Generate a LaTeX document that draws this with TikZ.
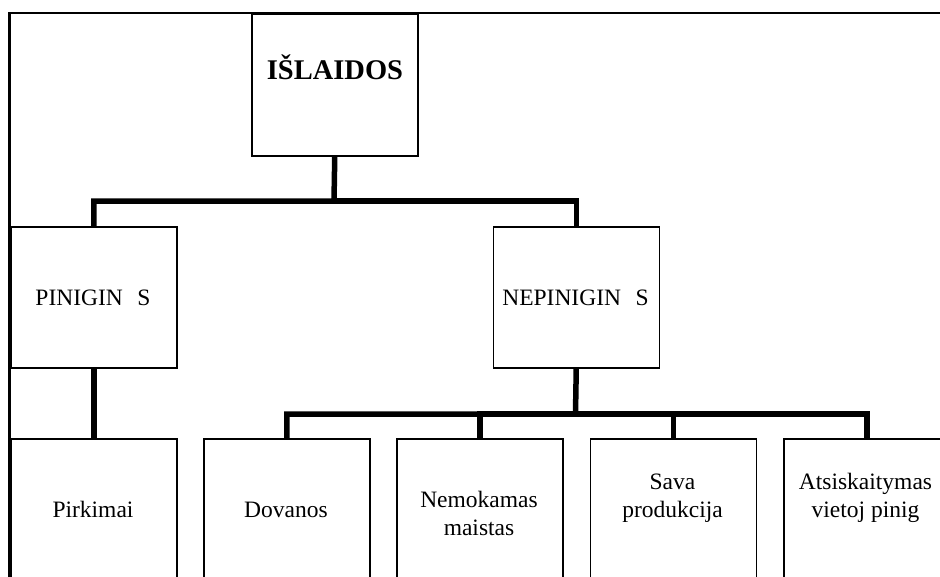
\documentclass[tikz,border=0pt]{standalone}
\usepackage{fontspec}
\setmainfont{Liberation Serif}
\begin{document}
\begin{tikzpicture}[x=1pt,y=-1pt,
  box/.style={draw=black,line width=1.5pt,fill=white,rectangle,inner sep=0pt,anchor=north west,minimum width=166pt},
  midbox/.style={box,minimum height=141pt},
  lowbox/.style={box,minimum height=144pt},
  lbl/.style={inner sep=0pt,anchor=base,align=center,font=\fontsize{23.5}{28}\selectfont},
  conn/.style={draw=black,line width=5.5pt,line join=miter}]
\useasboundingbox (0,0) rectangle (940,576);
\clip (0,0) rectangle (940,576);
% frame
\draw[line width=1.8pt] (8,13) -- (950,13);
\draw[line width=3pt] (9.5,12.2) -- (9.5,590);
% boxes
\node[box,minimum height=142pt] (top) at (251,13) {};
\node[midbox] (pin) at (10,226) {};
\node[midbox] (nep) at (492.5,226) {};
\node[lowbox] (pirk) at (10,438) {};
\node[lowbox] (dov) at (203,438) {};
\node[lowbox] (nem) at (396,438) {};
\node[lowbox] (sava) at (589.5,438) {};
\node[lowbox] (ats) at (783,438) {};
% labels
\node[lbl,font=\fontsize{28.5}{32}\selectfont\bfseries] (ttop) at (335,79) {IŠLAIDOS};
\node[lbl] (tpin) at (93,305) {PINIGIN\hspace{0.62em}S};
\node[lbl] (tnep) at (575.5,305) {NEPINIGIN\hspace{0.62em}S};
\node[lbl] (tpirk) at (93,517) {Pirkimai};
\node[lbl] (tdov) at (286,517) {Dovanos};
\node[lbl] (tnem1) at (479,507) {Nemokamas};
\node[lbl] (tnem2) at (479,535) {maistas};
\node[lbl] (tsava1) at (672.5,489) {Sava};
\node[lbl] (tsava2) at (672.5,517) {produkcija};
\node[lbl] (tats1) at (865.5,489) {Atsiskaitymas};
\node[lbl] (tats2) at (865.5,517) {vietoj pinig};
% connectors
\coordinate (j1) at (334,201);
\coordinate (j2) at (575.5,414);
\draw[conn] (top.south) -- (j1) -| (pin.north);
\draw[conn] (j1) -| (nep.north);
\draw[conn] (pin.south) -- (pirk.north);
\draw[conn] (nep.south) -- (j2) -| (dov.north);
\draw[conn] (j2) -| (nem.north);
\draw[conn] (j2) -| (sava.north);
\draw[conn] (j2) -| (ats.north);
\end{tikzpicture}
\end{document}
